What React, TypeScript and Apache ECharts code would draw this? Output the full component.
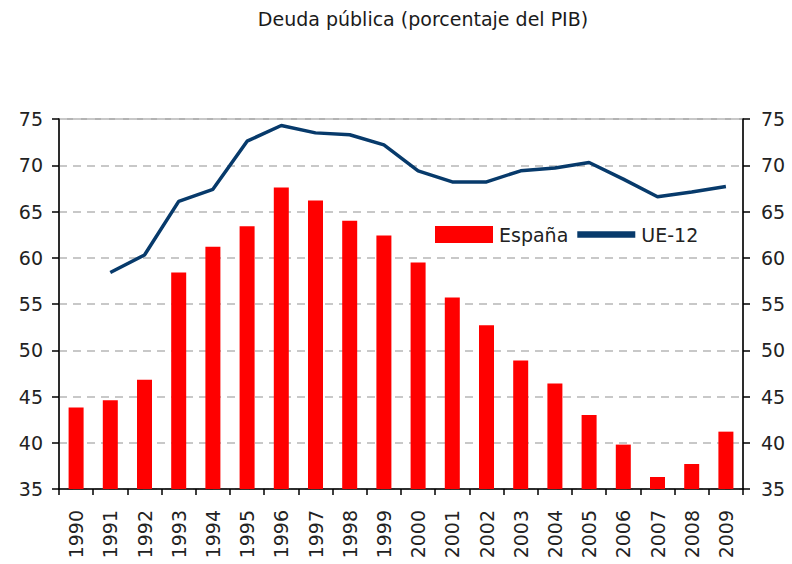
import React, { useEffect, useRef } from "react";
import * as echarts from "echarts";

const years = ["1990","1991","1992","1993","1994","1995","1996","1997","1998","1999","2000","2001","2002","2003","2004","2005","2006","2007","2008","2009"];
const espana = [43.8, 44.6, 46.8, 58.4, 61.2, 63.4, 67.6, 66.2, 64.0, 62.4, 59.5, 55.7, 52.7, 48.9, 46.4, 43.0, 39.8, 36.3, 37.7, 41.2];
const ue12 = [null, 58.4, 60.3, 66.1, 67.4, 72.6, 74.3, 73.5, 73.3, 72.2, 69.4, 68.2, 68.2, 69.4, 69.7, 70.3, 68.5, 66.6, 67.1, 67.7];
const titleText = "Deuda pública (porcentaje del PIB)";

const FONT = "DejaVu Sans";

export default function App() {
  const ref = useRef<HTMLDivElement>(null);
  useEffect(() => {
    if (!ref.current) return;
    const chart = echarts.init(ref.current, null, { renderer: "svg" });
    const yAxisCommon = {
      type: "value",
      min: 35,
      max: 75,
      interval: 5,
      axisLine: { show: true, lineStyle: { color: "#000", width: 1.5 } },
      axisTick: { show: true, length: 7, lineStyle: { color: "#000", width: 1.5 } },
    };
    chart.setOption({
      animation: false,
      backgroundColor: "#fff",
      textStyle: { fontFamily: FONT },
      graphic: [
        {
          type: "text",
          x: 423,
          y: 19,
          style: {
            text: titleText,
            fontFamily: FONT,
            fontSize: 19,
            fill: "#1a1a1a",
            textAlign: "center",
            textVerticalAlign: "middle",
          },
        },
      ],
      grid: {
        left: 59,
        right: 49,
        top: 119,
        bottom: 75,
        show: true,
        borderColor: "#9a9a9a",
        borderWidth: 1.5,
      },
      legend: {
        left: 435,
        top: 225,
        padding: 0,
        itemWidth: 58,
        itemHeight: 17,
        itemGap: 9,
        textStyle: { fontFamily: FONT, fontSize: 19, color: "#222", padding: [0, 0, 0, 1] },
        data: [
          { name: "España", icon: "rect" },
          { name: "UE-12", icon: "path://M0,0H60V6.5H0Z" },
        ],
      },
      xAxis: {
        type: "category",
        data: years,
        axisLine: { show: true, lineStyle: { color: "#000", width: 1.5 } },
        axisTick: { show: true, length: 6, alignWithLabel: false, lineStyle: { color: "#000", width: 1.5 } },
        axisLabel: {
          rotate: 90,
          margin: 21,
          fontFamily: FONT,
          fontSize: 19,
          color: "#222",
          interval: 0,
        },
      },
      yAxis: [
        {
          ...yAxisCommon,
          position: "left",
          axisLabel: { margin: 16, fontFamily: FONT, fontSize: 19, color: "#222" },
          splitLine: { show: true, lineStyle: { color: "#c8c8c8", width: 2, type: [8, 6] } },
        },
        {
          ...yAxisCommon,
          position: "right",
          axisLabel: { margin: 18, fontFamily: FONT, fontSize: 19, color: "#222" },
          splitLine: { show: false },
        },
      ],
      series: [
        {
          name: "España",
          type: "bar",
          data: espana,
          barWidth: 15,
          itemStyle: { color: "#ff0000" },
        },
        {
          name: "UE-12",
          type: "line",
          data: ue12,
          showSymbol: false,
          symbol: "none",
          lineStyle: { color: "#073a6b", width: 3.5 },
          itemStyle: { color: "#073a6b" },
        },
      ],
    });
    return () => chart.dispose();
  }, []);
  return <div ref={ref} style={{ position: "absolute", left: 0, top: 0, width: 792, height: 564 }} />;
}
